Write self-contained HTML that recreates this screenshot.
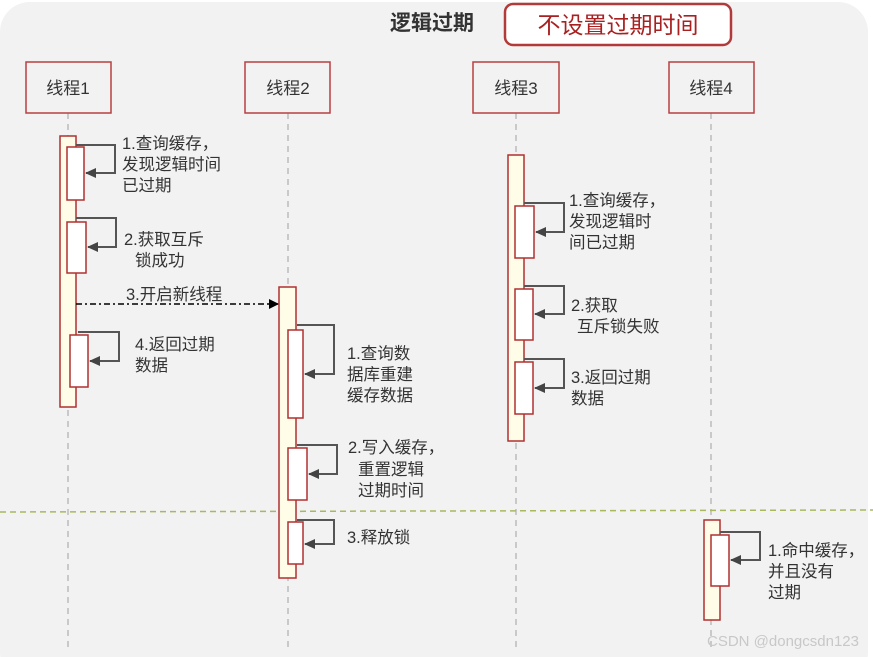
<!DOCTYPE html>
<html><head><meta charset="utf-8"><style>
html,body{margin:0;padding:0;background:#fff;}
svg{display:block;}
text{font-family:"Liberation Sans","Noto Sans CJK SC",sans-serif;fill:#333;}
</style></head><body>
<svg width="873" height="657" viewBox="0 0 873 657" xmlns="http://www.w3.org/2000/svg">
<defs>
<marker id="ah" markerWidth="11" markerHeight="10" refX="10" refY="5" orient="auto" markerUnits="userSpaceOnUse"><path d="M0,0 L11,5 L0,10 z" fill="#444"/></marker>
<marker id="ah2" markerWidth="10" markerHeight="10" refX="9" refY="5" orient="auto" markerUnits="userSpaceOnUse"><path d="M0,0 L10,5 L0,10 z" fill="#000"/></marker>
</defs>
<rect x="0" y="2" width="868" height="680" rx="30" fill="#f2f2f2"/>
<text x="390" y="30" font-size="21" font-weight="bold" fill="#333">逻辑过期</text>
<rect x="505" y="4" width="226" height="41" rx="8" fill="#fff" stroke="#b33a3a" stroke-width="2.5"/>
<text x="618" y="33" font-size="23" text-anchor="middle" style="fill:#a82020">不设置过期时间</text>

<g stroke="#bbb" stroke-width="1.5" stroke-dasharray="6,5">
<line x1="68" y1="113" x2="68" y2="650"/>
<line x1="288" y1="113" x2="288" y2="650"/>
<line x1="516" y1="113" x2="516" y2="650"/>
<line x1="711" y1="113" x2="711" y2="650"/>
</g>
<line x1="0" y1="512" x2="873" y2="510" stroke="#a8b860" stroke-width="1.5" stroke-dasharray="6,4"/>

<g fill="#f2f2f2" stroke="#b84040" stroke-width="1.5">
<rect x="26" y="62" width="85" height="51"/>
<rect x="245" y="62" width="85" height="51"/>
<rect x="473" y="62" width="86" height="51"/>
<rect x="669" y="62" width="85" height="51"/>
</g>
<g font-size="17" text-anchor="middle">
<text x="68" y="94">线程1</text>
<text x="288" y="94">线程2</text>
<text x="516" y="94">线程3</text>
<text x="711" y="94">线程4</text>
</g>

<g stroke="#b03030" stroke-width="1.5" fill="#fffde8">
<rect x="60" y="136" width="16" height="271"/>
<rect x="279" y="287" width="17" height="291"/>
<rect x="508" y="155" width="16" height="286"/>
<rect x="704" y="520" width="16" height="100"/>
</g>
<g stroke="#b03030" stroke-width="1.5" fill="#fff">
<rect x="67" y="147" width="17" height="53"/>
<rect x="67" y="222" width="19" height="51"/>
<rect x="70" y="335" width="18" height="52"/>
<rect x="288" y="330" width="15" height="88"/>
<rect x="288" y="448" width="19" height="52"/>
<rect x="288" y="522" width="15" height="42"/>
<rect x="515" y="206" width="19" height="52"/>
<rect x="515" y="289" width="18" height="51"/>
<rect x="515" y="362" width="18" height="52"/>
<rect x="711" y="535" width="18" height="51"/>
</g>
<g fill="none" stroke="#555" stroke-width="2" marker-end="url(#ah)">
<polyline points="76,145 115,145 115,173 86,173"/>
<polyline points="76,218 116,218 116,247 88,247"/>
<polyline points="78,332 119,332 119,361 90,361"/>
<polyline points="297,325 334,325 334,374 305,374"/>
<polyline points="297,445 337,445 337,474 309,474"/>
<polyline points="297,520 334,520 334,544 305,544"/>
<polyline points="524,203 564,203 564,232 536,232"/>
<polyline points="524,286 564,286 564,314 535,314"/>
<polyline points="524,359 564,359 564,388 535,388"/>
<polyline points="720,532 760,532 760,560 731,560"/>
</g>
<line x1="76" y1="304" x2="278" y2="304" stroke="#000" stroke-width="1.5" stroke-dasharray="6,3,2,3" marker-end="url(#ah2)"/>

<g font-size="16.5">
<text x="122" y="149">1.查询缓存，</text>
<text x="122" y="170">发现逻辑时间</text>
<text x="122" y="191">已过期</text>
<text x="124" y="245">2.获取互斥</text>
<text x="135" y="266">锁成功</text>
<text x="126" y="300">3.开启新线程</text>
<text x="135" y="350">4.返回过期</text>
<text x="135" y="371">数据</text>
<text x="347" y="359">1.查询数</text>
<text x="347" y="380">据库重建</text>
<text x="347" y="401">缓存数据</text>
<text x="348" y="453">2.写入缓存，</text>
<text x="358" y="475">重置逻辑</text>
<text x="358" y="496">过期时间</text>
<text x="347" y="543">3.释放锁</text>
<text x="569" y="206">1.查询缓存，</text>
<text x="569" y="227">发现逻辑时</text>
<text x="569" y="248">间已过期</text>
<text x="571" y="311">2.获取</text>
<text x="577" y="332">互斥锁失败</text>
<text x="571" y="383">3.返回过期</text>
<text x="571" y="404">数据</text>
<text x="768" y="556">1.命中缓存，</text>
<text x="768" y="577">并且没有</text>
<text x="768" y="598">过期</text>
</g>
<text x="707" y="646" font-size="15" style="fill:#c8c8c8">CSDN @dongcsdn123</text>
</svg>
</body></html>
